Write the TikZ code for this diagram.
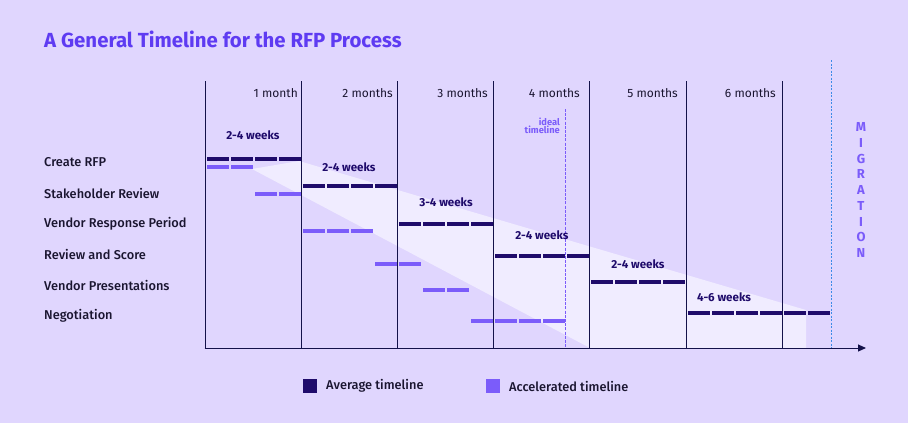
\documentclass[tikz,border=0pt]{standalone}
\usepackage{fontspec}
\setmainfont{Fira Sans}
\newfontfamily\medfont{Fira Sans Medium}
\usetikzlibrary{arrows.meta}
\definecolor{bg}{HTML}{E0D6FE}
\definecolor{band}{HTML}{F0ECFF}
\definecolor{navy}{HTML}{1F0B6B}
\definecolor{accel}{HTML}{7B5CFA}
\definecolor{titlec}{HTML}{5E3BF2}
\definecolor{axisc}{HTML}{14124A}
\definecolor{txt}{HTML}{1A1530}
\definecolor{migline}{HTML}{3D8BE8}
\tikzset{
  rowlabel/.style={anchor=west, inner sep=0, text=txt, font=\medfont\fontsize{12.8}{14}\selectfont},
  monthlabel/.style={anchor=east, inner sep=0, text=txt, font=\fontsize{12}{14}\selectfont},
  weeklabel/.style={inner sep=0, text=navy, font=\bfseries\fontsize{11.6}{13}\selectfont},
  idealtext/.style={inner sep=0, text=accel, align=right, font=\bfseries\fontsize{9.3}{10}\selectfont},
  monthline/.style={draw=axisc, line width=1pt},
  avgseg/.style={fill=navy},
  accseg/.style={fill=accel},
}
\begin{document}
\begin{tikzpicture}[x=1pt,y=-1pt]
\fill[bg] (0,0) rectangle (908,423);
\useasboundingbox (0,0) rectangle (908,423);
% light band
\fill[band] (252,169) -- (299,161) -- (806,310) -- (806,348) -- (590,348) -- cycle;
% title
\node[anchor=west, inner sep=0, text=titlec, font=\bfseries\fontsize{20.4}{22}\selectfont] (title) at (44,39) {A General Timeline for the RFP Process};
% month lines
\foreach \x [count=\i] in {205,301,397,493,589,686,782}
  \draw[monthline] (\x,81) coordinate (mtop\i) -- (\x,348) coordinate (mbot\i);
% migration line
\draw[migline, line width=0.8pt, dash pattern=on 2pt off 1.5pt] (831,60) coordinate (migtop) -- (831,348) coordinate (migbot);
% ideal timeline line
\draw[accel, line width=0.9pt, dash pattern=on 3pt off 1.2pt] (565,109) coordinate (idtop) -- (565,348) coordinate (idbot);
% axis
\coordinate (ax0) at (204.5,348);
\coordinate (ax1) at (866,348);
\draw[axisc, line width=1pt, -{Triangle[length=8pt,width=7pt]}] (ax0) -- (ax1);
% month labels
\foreach \x/\t [count=\i] in {298/1 month,393/2 months,488/3 months,580/4 months,678/5 months,776/6 months}
  \node[monthlabel] (ml\i) at (\x,93) {\t};
% row labels
\foreach \y/\t [count=\i] in {162/Create RFP,193/Stakeholder Review,224/Vendor Response Period,254/Review and Score,285/Vendor Presentations,316/Negotiation}
  \node[rowlabel] (row\i) at (44,\y) {\t};
% average bars
\foreach \y/\m in {159/205,186/301,224/397,256/493,282/589,313/686}
  \foreach \k in {0,...,3}
    \fill[avgseg] (\m+1.5+\k*24,\y-2.3) rectangle ++(22,4.6);
\foreach \k in {0,1}
  \fill[avgseg] (782+1.5+\k*24,313-2.3) rectangle ++(22,4.6);
% accelerated bars
\foreach \x/\y in {206/167,230/167,254/194,278/194,302/231,326/231,350/231,374/264,398/264,422/290,446/290,470/321,494/321,518/321,542/321}
  \fill[accseg] (\x+0.5,\y-2.3) rectangle ++(22,4.6);
% week labels
\node[weeklabel] (w1) at (253,135) {2-4 weeks};
\node[weeklabel] (w2) at (349,167) {2-4 weeks};
\node[weeklabel] (w3) at (446,202) {3-4 weeks};
\node[weeklabel] (w4) at (542,235) {2-4 weeks};
\node[weeklabel] (w5) at (638,264) {2-4 weeks};
\node[weeklabel] (w6) at (724,297) {4-6 weeks};
% ideal timeline text
\node[idealtext, anchor=north east] (ideal) at (560,117.5) {ideal\\[-1.5pt]timeline};
% migration
\node[inner sep=0, text=accel, align=center, font=\bfseries\fontsize{13}{15.75}\selectfont] (mig) at (861,190) {M\\I\\G\\R\\A\\T\\I\\O\\N};
% legend
\fill[navy] (303,379) rectangle (317,393);
\node[anchor=west, inner sep=0, text=txt, font=\medfont\fontsize{12.8}{14}\selectfont] (leg1) at (326,386) {Average timeline};
\fill[accel] (486,379) rectangle (500,393);
\node[anchor=west, inner sep=0, text=txt, font=\medfont\fontsize{12.8}{14}\selectfont] (leg2) at (509,386) {Accelerated timeline};
\end{tikzpicture}
\end{document}
